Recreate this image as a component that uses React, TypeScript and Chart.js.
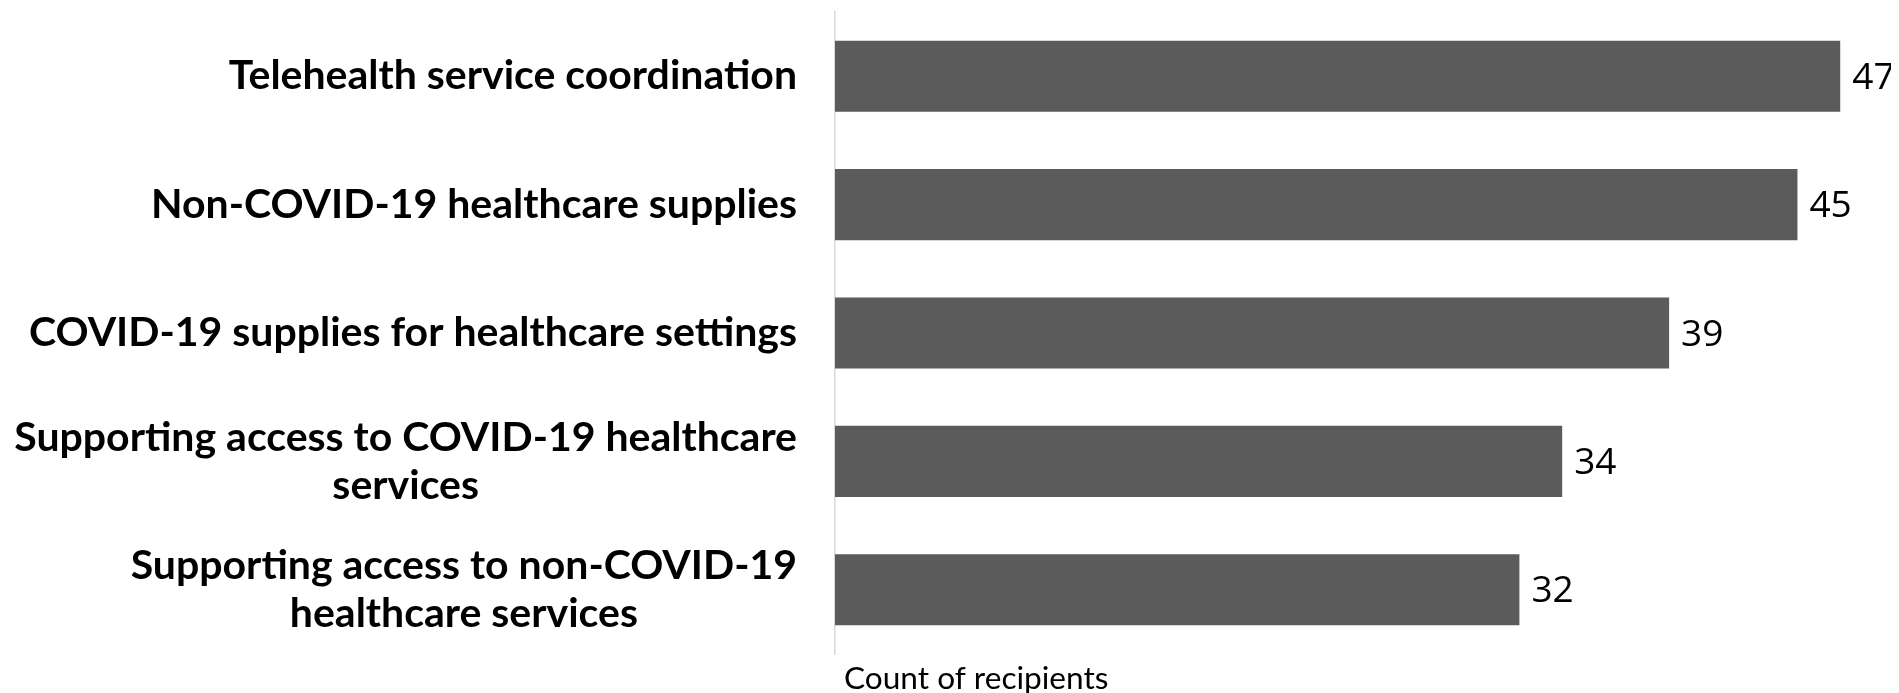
import React, { useEffect, useRef } from "react";
import { Chart, registerables } from "chart.js";

Chart.register(...registerables);

const categories: string[][] = [
  ["Telehealth service coordination"],
  ["Non-COVID-19 healthcare supplies"],
  ["COVID-19 supplies for healthcare settings"],
  ["Supporting access to COVID-19 healthcare", "services"],
  ["Supporting access to non-COVID-19", "healthcare services"],
];
const values: number[] = [47, 45, 39, 34, 32];
const axisTitle = "Count of recipients";

const LABEL_FONT = "bold 41px Lato";
const LABEL_LINE = 48;
const VALUE_FONT = "37px 'Open Sans'";
const TITLE_FONT = "31.6px Lato";

const labelPlugin = {
  id: "customLabels",
  afterDatasetsDraw(chart: any) {
    const { ctx, chartArea } = chart;
    const yScale = chart.scales.y;
    const meta = chart.getDatasetMeta(0);
    ctx.save();
    // category labels
    ctx.font = LABEL_FONT;
    ctx.fillStyle = "#000000";
    ctx.textAlign = "center";
    ctx.textBaseline = "middle";
    const rightX = chartArea.left - 38;
    categories.forEach((lines, i) => {
      const cy = yScale.getPixelForValue(i);
      const widest = Math.max(...lines.map((l) => ctx.measureText(l).width));
      const cx = rightX - widest / 2;
      const startY = cy - ((lines.length - 1) * LABEL_LINE) / 2;
      lines.forEach((l, j) => ctx.fillText(l, cx, startY + j * LABEL_LINE));
    });
    // value labels
    ctx.font = VALUE_FONT;
    ctx.textAlign = "left";
    meta.data.forEach((bar: any, i: number) => {
      ctx.fillText(String(values[i]), bar.x + 12, bar.y + 2);
    });
    // axis title
    ctx.font = TITLE_FONT;
    ctx.textAlign = "left";
    ctx.textBaseline = "middle";
    ctx.fillText(axisTitle, chartArea.left + 9, chartArea.bottom + 25);
    ctx.restore();
  },
};

export default function App() {
  const ref = useRef<HTMLCanvasElement | null>(null);
  useEffect(() => {
    if (!ref.current) return;
    const chart = new Chart(ref.current, {
      type: "bar",
      data: {
        labels: categories.map((c) => c.join(" ")),
        datasets: [
          {
            data: values,
            backgroundColor: "#5b5b5b",
            borderWidth: 0,
            categoryPercentage: 1,
            barPercentage: 0.554,
          },
        ],
      },
      options: {
        indexAxis: "y",
        animation: false,
        responsive: true,
        maintainAspectRatio: false,
        layout: { padding: { top: 4, right: 8, bottom: 39, left: 0 } },
        plugins: {
          legend: { display: false },
          tooltip: { enabled: false },
        },
        scales: {
          x: {
            min: 0,
            max: 49,
            grid: { display: false, drawTicks: false },
            border: { display: false },
            ticks: { display: false },
            title: { display: false },
          },
          y: {
            grid: { display: false, drawTicks: false },
            border: { display: true, color: "#d9d9d9", width: 1.5 },
            ticks: { display: false },
            afterFit: (scale: any) => {
              scale.width = 827;
            },
          },
        },
      },
      plugins: [labelPlugin],
    });
    return () => chart.destroy();
  }, []);
  return (
    <div style={{ width: 1883, height: 685, position: "relative" }}>
      <canvas ref={ref} />
    </div>
  );
}
